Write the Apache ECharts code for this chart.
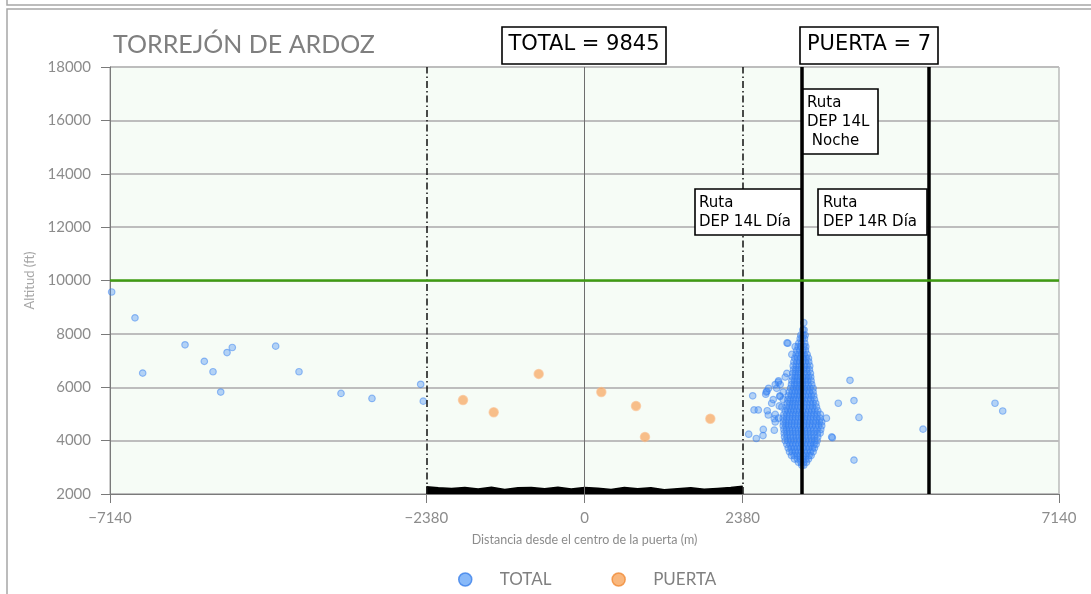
<!DOCTYPE html>
<html>
<head>
<meta charset="utf-8">
<script src="https://cdn.jsdelivr.net/npm/echarts@6/dist/echarts.min.js"></script>
<style>
  html, body { margin: 0; padding: 0; background: #fff; }
  #chart { width: 1091px; height: 594px; }
</style>
</head>
<body>
<div id="chart"></div>
<script>
// tick labels
var xTicks = [-7140, -2380, 0, 2380, 7140];

// reference lines (m)
var routeLines = [-2380, 2380];
var gateLines = [3275, 5175];
var limitAlt = 10000;

// black band along the runway axis
var bandX = [-2380, -2200, -2000, -1800, -1600, -1400, -1200, -1000, -800, -600, -400, -200, 0,
             200, 400, 600, 800, 1000, 1200, 1400, 1600, 1800, 2000, 2200, 2380];
var bandTop = [2270, 2230, 2210, 2240, 2190, 2250, 2170, 2230, 2240, 2200, 2250, 2190, 2240,
               2220, 2170, 2240, 2200, 2230, 2160, 2200, 2230, 2180, 2210, 2240, 2290];

// PUERTA points
var puertaX   = [-1828, -1366, -689, 253, 775, 910, 1893];
var puertaAlt = [5520, 5060, 6500, 5820, 5300, 4140, 4820];

// TOTAL: scattered points
var totalOutliers = [
  [-7115, 9570], [-6764, 8600], [-6648, 6530], [-6011, 7590], [-5721, 6970], [-5590, 6580],
  [-5474, 5820], [-5379, 7300], [-5300, 7490], [-4647, 7540], [-4296, 6580], [-3664, 5770],
  [-3198, 5580], [-2465, 6110], [-2426, 5480],
  [2531, 5680], [2551, 5150], [2615, 5150], [2471, 4240], [2585, 4080], [2686, 4190],
  [2766, 4960], [2856, 4390], [2856, 4820], [2727, 5740], [2746, 5850], [2817, 5400],
  [2916, 6190], [2892, 5960], [2942, 5650], [2931, 5300], [3047, 7660],
  [3995, 6260], [3819, 5400], [4055, 5500], [4130, 4870], [3729, 4110], [4055, 3270],
  [5094, 4430], [6177, 5400], [6293, 5110]
];

// TOTAL: dense cluster, rows of [altitude, distances]
var clusterRows = [
  [8420, [3300]],
  [8150, [3285, 3305]],
  [7950, [3255, 3290, 3320]],
  [7820, [3245, 3275, 3310]],
  [7650, [3060, 3225, 3265, 3315]],
  [7520, [3170, 3215, 3255, 3300, 3330]],
  [7380, [3195, 3240, 3285, 3325]],
  [7230, [3120, 3185, 3225, 3270, 3305, 3350]],
  [7090, [3165, 3205, 3250, 3290, 3335, 3370]],
  [6950, [3150, 3195, 3240, 3280, 3325, 3375]],
  [6800, [3140, 3185, 3230, 3265, 3310, 3350, 3390]],
  [6660, [3145, 3180, 3220, 3260, 3300, 3345, 3385]],
  [6520, [3045, 3135, 3175, 3220, 3255, 3300, 3350, 3400]],
  [6380, [3020, 3130, 3170, 3205, 3250, 3290, 3335, 3370, 3405]],
  [6240, [2920, 3120, 3160, 3200, 3240, 3280, 3320, 3360, 3410]],
  [6100, [2870, 2945, 3115, 3160, 3195, 3240, 3275, 3320, 3365, 3420]],
  [5960, [2770, 3100, 3145, 3190, 3225, 3270, 3310, 3350, 3395, 3440]],
  [5820, [2735, 2990, 3080, 3125, 3170, 3210, 3250, 3290, 3340, 3385, 3440]],
  [5680, [2940, 3070, 3110, 3155, 3200, 3240, 3280, 3325, 3370, 3415, 3450]],
  [5540, [2840, 2990, 3060, 3100, 3145, 3180, 3225, 3270, 3310, 3360, 3405, 3460]],
  [5400, [3050, 3090, 3135, 3170, 3215, 3260, 3300, 3345, 3400, 3440, 3480]],
  [5260, [2970, 3040, 3080, 3125, 3165, 3210, 3255, 3300, 3340, 3390, 3435, 3490]],
  [5120, [2750, 3020, 3060, 3105, 3150, 3190, 3235, 3280, 3325, 3375, 3420, 3465, 3510]],
  [4980, [2870, 3000, 3045, 3090, 3135, 3180, 3225, 3270, 3315, 3360, 3410, 3455, 3500, 3550]],
  [4840, [2920, 2990, 3040, 3085, 3130, 3175, 3220, 3265, 3310, 3355, 3400, 3445, 3495, 3545, 3640]],
  [4700, [2870, 2990, 3030, 3075, 3120, 3165, 3210, 3255, 3300, 3345, 3390, 3440, 3485, 3535, 3570]],
  [4560, [2990, 3030, 3070, 3115, 3160, 3205, 3250, 3295, 3340, 3385, 3430, 3480, 3525, 3570]],
  [4420, [2690, 3000, 3040, 3085, 3130, 3175, 3220, 3265, 3310, 3355, 3400, 3450, 3500, 3555]],
  [4280, [3005, 3045, 3090, 3135, 3180, 3225, 3270, 3315, 3360, 3405, 3455, 3505, 3545]],
  [4140, [3010, 3050, 3100, 3140, 3185, 3230, 3275, 3320, 3365, 3410, 3460, 3510, 3720]],
  [4000, [3020, 3060, 3105, 3150, 3195, 3240, 3285, 3330, 3375, 3420, 3465, 3500]],
  [3860, [3045, 3090, 3135, 3180, 3225, 3270, 3315, 3360, 3405, 3455, 3485]],
  [3720, [3065, 3110, 3155, 3200, 3245, 3290, 3335, 3380, 3430, 3460]],
  [3580, [3085, 3125, 3170, 3215, 3260, 3305, 3350, 3400, 3440]],
  [3440, [3115, 3155, 3200, 3245, 3290, 3335, 3380, 3410]],
  [3310, [3160, 3205, 3250, 3290, 3330, 3370]],
  [3190, [3220, 3260, 3300, 3340]],
  [3080, [3270, 3300]]
];

var totalData = totalOutliers.slice();
clusterRows.forEach(function (row) {
  row[1].forEach(function (x) { totalData.push([x, row[0]]); });
});
var puertaData = puertaX.map(function (x, i) { return [x, puertaAlt[i]]; });
var bandData = bandX.map(function (x, i) { return [x, bandTop[i]]; });

var dashDot = [7, 3, 1.5, 3];
var refLines = [{ xAxis: 0, lineStyle: { color: '#6e6e6e', width: 1, type: 'solid' } }];
routeLines.forEach(function (x) {
  refLines.push({ xAxis: x, lineStyle: { color: '#111', width: 1.5, type: dashDot } });
});
gateLines.forEach(function (x) {
  refLines.push({ xAxis: x, lineStyle: { color: '#000', width: 3.5, type: 'solid' } });
});
refLines.push({ yAxis: limitAlt, lineStyle: { color: '#3f9c12', width: 2.5, type: 'solid' } });

var boxFont = 'DejaVu Sans';
function box(x, y, w, h) {
  return { type: 'rect', shape: { x: x, y: y, width: w, height: h }, z: 100,
           style: { fill: '#fff', stroke: '#000', lineWidth: 1.6 } };
}
function label(x, y, txt, size, align) {
  return { type: 'text', x: x, y: y, z: 101,
           style: { text: txt, fill: '#000', font: size + 'px "' + boxFont + '"',
                    textAlign: align || 'left', textVerticalAlign: 'top', lineHeight: 19 } };
}

var chart = echarts.init(document.getElementById('chart'));
chart.setOption({
  animation: false,
  backgroundColor: '#fff',
  title: {
    text: 'TORREJÓN DE ARDOZ',
    left: 108, top: 27,
    textStyle: { fontFamily: 'Lato', fontSize: 25, fontWeight: 'normal', color: '#7f7f7f' }
  },
  legend: {
    left: 453, top: 566,
    itemWidth: 13, itemHeight: 13, itemGap: 60,
    icon: 'circle',
    textStyle: { fontFamily: 'Lato', fontSize: 17, color: '#808080', padding: [0, 0, 0, 23] },
    data: [
      { name: 'TOTAL', itemStyle: { color: '#6aa8f7', borderColor: '#3a80ea', borderWidth: 1.5 } },
      { name: 'PUERTA', itemStyle: { color: '#f8a55c', borderColor: '#f08a35', borderWidth: 1.5 } }
    ]
  },
  grid: {
    left: 110, right: 32, top: 67, bottom: 100,
    show: true, backgroundColor: '#f6fcf6', borderColor: '#9a9a9a', borderWidth: 1
  },
  xAxis: {
    type: 'value', min: -7140, max: 7140,
    name: 'Distancia desde el centro de la puerta (m)',
    nameLocation: 'middle', nameGap: 39,
    nameTextStyle: { fontFamily: 'Lato', fontSize: 12.5, color: '#8c8c8c' },
    axisLine: { show: true, onZero: false, lineStyle: { color: '#7a7a7a', width: 1 } },
    axisTick: { show: true, length: 9, customValues: xTicks, lineStyle: { color: '#7a7a7a' } },
    axisLabel: {
      customValues: xTicks, margin: 17,
      fontFamily: 'Lato', fontSize: 15, color: '#8c8c8c',
      formatter: function (v) { return v < 0 ? '\u2212' + Math.abs(v) : String(v); }
    },
    splitLine: { show: false }
  },
  yAxis: {
    type: 'value', min: 2000, max: 18000, interval: 2000,
    name: 'Altitud (ft)', nameLocation: 'middle', nameGap: 70,
    nameTextStyle: { fontFamily: 'Lato', fontSize: 13, color: '#a6a6a6' },
    axisLine: { show: true, onZero: false, lineStyle: { color: '#7a7a7a', width: 1 } },
    axisTick: { show: true, length: 9, lineStyle: { color: '#7a7a7a' } },
    axisLabel: { margin: 19, fontFamily: 'Lato', fontSize: 15, color: '#8c8c8c',
                 formatter: function (v) { return String(v); } },
    splitLine: { show: true, lineStyle: { color: '#bdbdbd', width: 2 } }
  },
  series: [
    {
      name: 'band', type: 'line', data: bandData, z: 2,
      symbol: 'none', silent: true,
      lineStyle: { color: '#000', width: 1.5 },
      areaStyle: { color: '#000', opacity: 1, origin: 'start' },
      markLine: { silent: true, symbol: ['none', 'none'], label: { show: false },
                  animation: false, data: refLines }
    },
    {
      name: 'TOTAL', type: 'scatter', data: totalData, z: 4,
      symbolSize: 6.5,
      itemStyle: { color: 'rgba(60,135,245,0.45)', borderColor: 'rgba(50,125,240,0.6)', borderWidth: 1.2 }
    },
    {
      name: 'PUERTA', type: 'scatter', data: puertaData, z: 5,
      symbolSize: 9,
      itemStyle: { color: 'rgba(247,155,75,0.8)', borderColor: 'rgba(250,190,140,0.8)', borderWidth: 1.5 }
    }
  ],
  graphic: [
    { type: 'rect', shape: { x: 7, y: -20, width: 1110, height: 25 }, silent: true,
      style: { fill: 'none', stroke: '#a6a6a6', lineWidth: 1.5 } },
    { type: 'rect', shape: { x: 7, y: 9, width: 1110, height: 620 }, silent: true,
      style: { fill: 'none', stroke: '#a6a6a6', lineWidth: 1.5 } },
    box(502, 27, 164, 37), label(584, 35, 'TOTAL = 9845', 21, 'center'),
    box(800, 27, 138, 37), label(869, 35, 'PUERTA = 7', 21, 'center'),
    box(803, 89, 75, 65), label(807, 94, 'Ruta\nDEP 14L\n Noche', 15),
    box(695, 189, 106, 46), label(699, 194, 'Ruta\nDEP 14L Día', 15),
    box(818, 189, 109, 46), label(823, 194, 'Ruta\nDEP 14R Día', 15)
  ]
});
</script>
</body>
</html>
